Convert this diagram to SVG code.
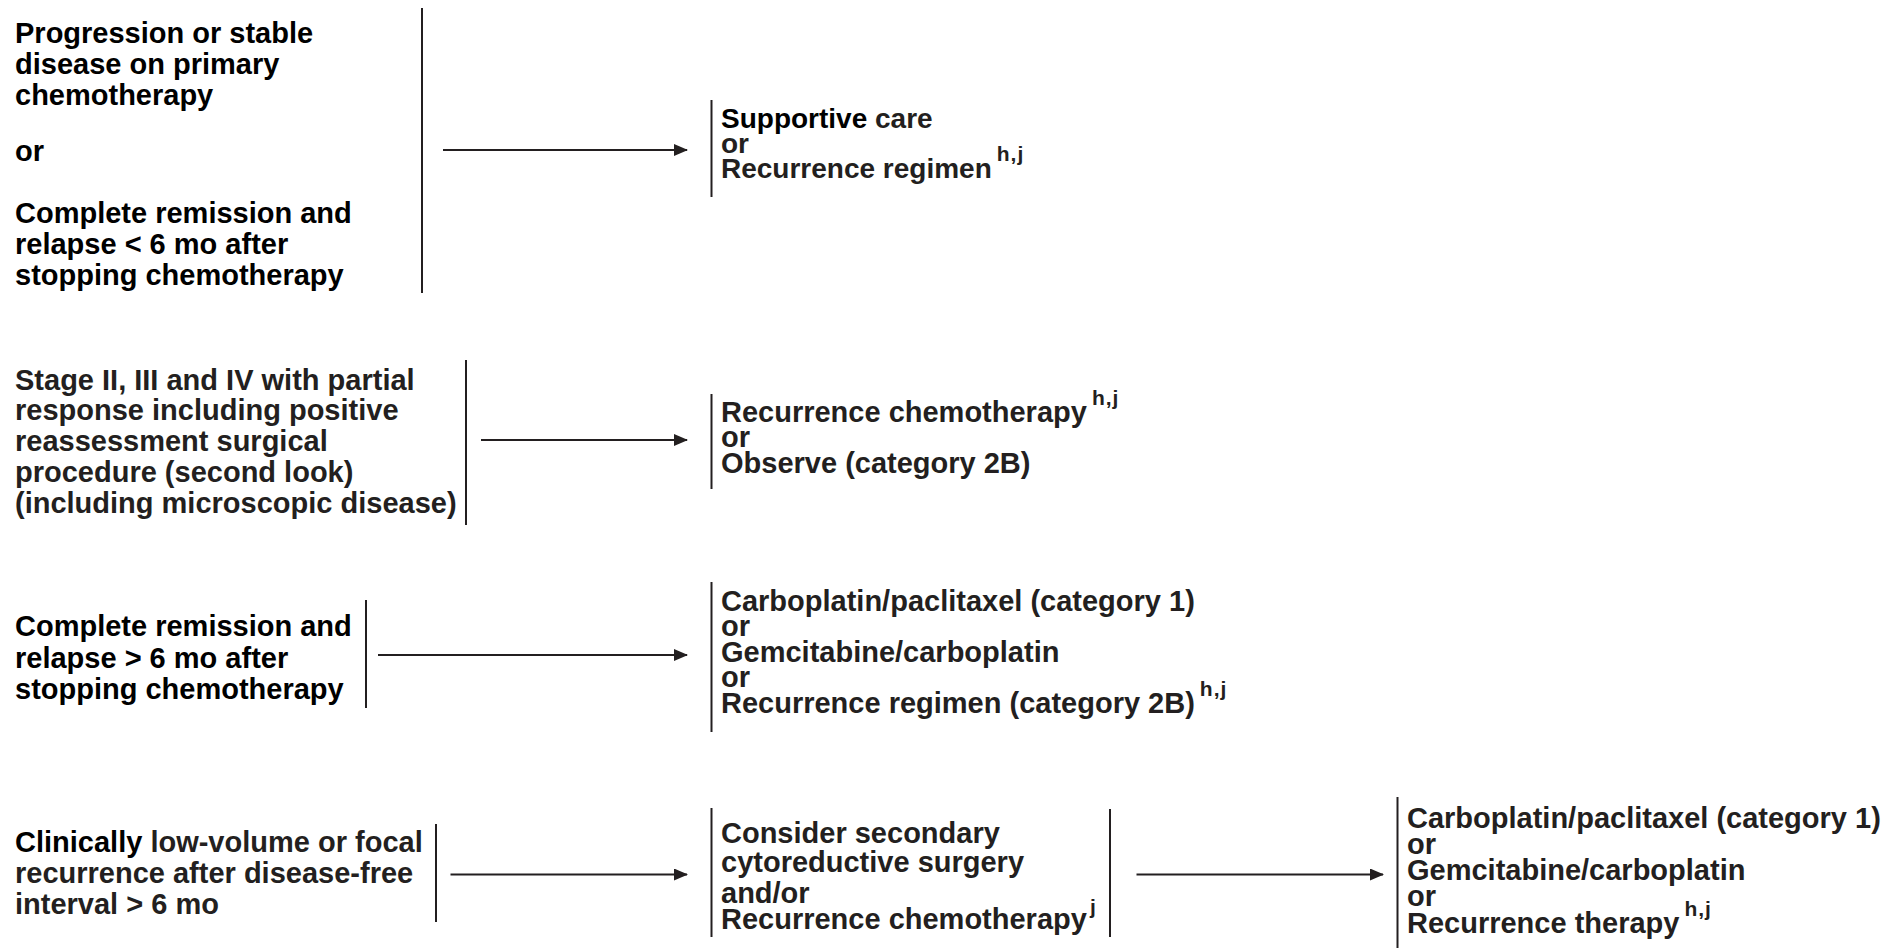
<svg xmlns="http://www.w3.org/2000/svg" width="1894" height="948" viewBox="0 0 1894 948">
  <style>
    .t { font-family: "Liberation Sans", Arial, sans-serif; font-weight: bold; font-size: 29px; fill: #231f20; }
    .r1 { font-size: 28px; }
    .k { fill: #000; }
    .sup { font-size: 21px; letter-spacing: 1px; }
    .bar { stroke: #231f20; stroke-width: 2; fill: none; }
    .edge { stroke: #231f20; stroke-width: 2; fill: none; marker-end: url(#arrow); }
  </style>
  <defs>
    <marker id="arrow" markerUnits="userSpaceOnUse" markerWidth="14" markerHeight="12" refX="13" refY="6" orient="auto">
      <path d="M0,0 L14,6 L0,12 z" fill="#231f20"/>
    </marker>
  </defs>
  <rect width="1894" height="948" fill="#fff"/>

  <!-- Row 1 -->
  <g id="n-progression">
    <text class="t k">
      <tspan x="15" y="42.5">Progression or stable</tspan>
      <tspan x="15" y="74">disease on primary</tspan>
      <tspan x="15" y="105">chemotherapy</tspan>
      <tspan x="15" y="161">or</tspan>
      <tspan x="15" y="223">Complete remission and</tspan>
      <tspan x="15" y="254">relapse &lt; 6 mo after</tspan>
      <tspan x="15" y="285">stopping chemotherapy</tspan>
    </text>
    <line class="bar" x1="422" y1="8" x2="422" y2="293"/>
  </g>
  <g id="n-supportive">
    <line class="bar" x1="711.5" y1="100" x2="711.5" y2="197"/>
    <text class="t r1">
      <tspan x="721" y="128"><tspan class="k">Supportive</tspan> care</tspan>
      <tspan x="721" y="153">or</tspan>
      <tspan x="721" y="178">Recurrence regimen</tspan><tspan class="sup" dx="5" dy="-17">h,j</tspan>
    </text>
  </g>

  <!-- Row 2 -->
  <g id="n-partial">
    <text class="t">
      <tspan x="15" y="390">Stage II, III and IV with partial</tspan>
      <tspan x="15" y="420">response including positive</tspan>
      <tspan x="15" y="451">reassessment surgical</tspan>
      <tspan x="15" y="481.5">procedure (second look)</tspan>
      <tspan x="15" y="512.5">(including microscopic disease)</tspan>
    </text>
    <line class="bar" x1="466" y1="360" x2="466" y2="525"/>
  </g>
  <g id="n-recur-chemo">
    <line class="bar" x1="711.5" y1="394" x2="711.5" y2="489"/>
    <text class="t">
      <tspan x="721" y="421.5">Recurrence chemotherapy</tspan><tspan class="sup" dx="5" dy="-17">h,j</tspan>
      <tspan x="721" y="447">or</tspan>
      <tspan x="721" y="472.5">Observe (category 2B)</tspan>
    </text>
  </g>

  <!-- Row 3 -->
  <g id="n-relapse-late">
    <text class="t k">
      <tspan x="15" y="636">Complete remission and</tspan>
      <tspan x="15" y="667.5">relapse &gt; 6 mo after</tspan>
      <tspan x="15" y="699">stopping chemotherapy</tspan>
    </text>
    <line class="bar" x1="366" y1="600" x2="366" y2="708"/>
  </g>
  <g id="n-regimens-a">
    <line class="bar" x1="711.5" y1="582" x2="711.5" y2="732"/>
    <text class="t">
      <tspan x="721" y="610.5">Carboplatin/paclitaxel (category 1)</tspan>
      <tspan x="721" y="636">or</tspan>
      <tspan x="721" y="661.5">Gemcitabine/carboplatin</tspan>
      <tspan x="721" y="687">or</tspan>
      <tspan x="721" y="712.5">Recurrence regimen (category 2B)</tspan><tspan class="sup" dx="5" dy="-17">h,j</tspan>
    </text>
  </g>

  <!-- Row 4 -->
  <g id="n-focal">
    <text class="t">
      <tspan x="15" y="852"><tspan class="k">Clinically</tspan> low-volume or focal</tspan>
      <tspan x="15" y="883">recurrence after disease-free</tspan>
      <tspan x="15" y="913.5">interval &gt; 6 mo</tspan>
    </text>
    <line class="bar" x1="436" y1="824" x2="436" y2="922"/>
  </g>
  <g id="n-cytoreductive">
    <line class="bar" x1="711.5" y1="808" x2="711.5" y2="937"/>
    <text class="t">
      <tspan x="721" y="843">Consider secondary</tspan>
      <tspan x="721" y="872">cytoreductive surgery</tspan>
      <tspan x="721" y="903">and/or</tspan>
      <tspan x="721" y="929">Recurrence chemotherapy</tspan><tspan class="sup" dx="3" dy="-15">j</tspan>
    </text>
    <line class="bar" x1="1110" y1="809" x2="1110" y2="937"/>
  </g>
  <g id="n-regimens-b">
    <line class="bar" x1="1397.5" y1="797" x2="1397.5" y2="948"/>
    <text class="t">
      <tspan x="1407" y="828">Carboplatin/paclitaxel (category 1)</tspan>
      <tspan x="1407" y="854">or</tspan>
      <tspan x="1407" y="880">Gemcitabine/carboplatin</tspan>
      <tspan x="1407" y="906">or</tspan>
      <tspan x="1407" y="932.5">Recurrence therapy</tspan><tspan class="sup" dx="5" dy="-17">h,j</tspan>
    </text>
  </g>

  <!-- Connectors -->
  <g id="connectors">
    <line class="edge" x1="443" y1="150" x2="687" y2="150"/>
    <line class="edge" x1="481" y1="440" x2="687" y2="440"/>
    <line class="edge" x1="378" y1="655" x2="687" y2="655"/>
    <line class="edge" x1="450.5" y1="874.5" x2="687" y2="874.5"/>
    <line class="edge" x1="1136.5" y1="874.5" x2="1383" y2="874.5"/>
  </g>
</svg>
